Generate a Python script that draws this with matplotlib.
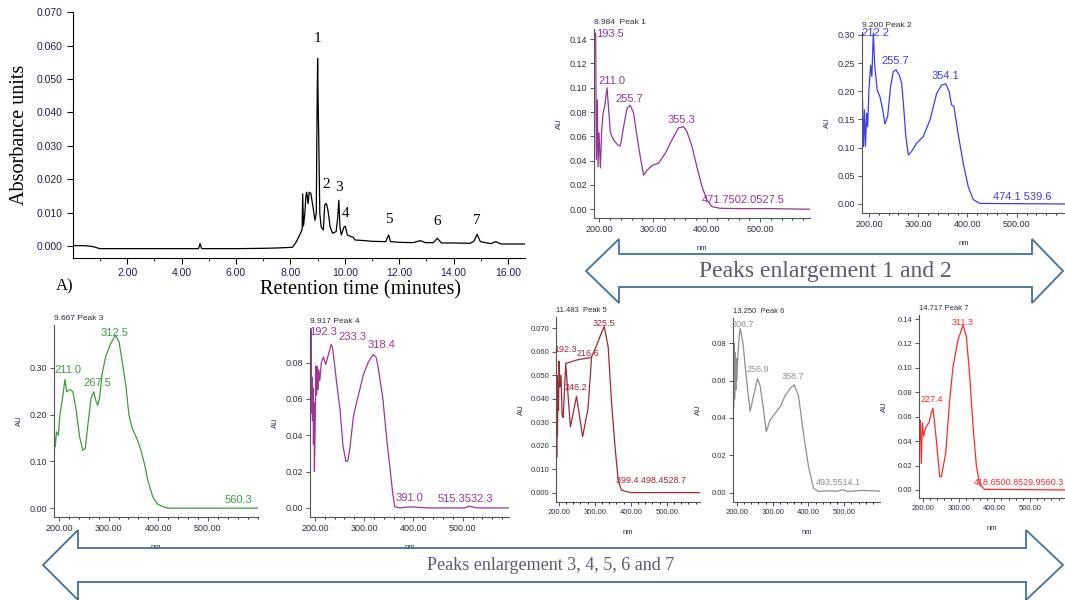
import numpy as np
import matplotlib.pyplot as plt
from matplotlib import font_manager
from matplotlib.patches import Polygon

W, H = 1065, 600

# chromatogram (retention time in min, absorbance)
rt = [0.0, 0.4, 0.7, 1.0, 1.5, 2.0, 3.0, 4.0, 4.62, 4.68, 4.74, 5.0, 6.0, 7.0, 7.5,
      8.07, 8.2, 8.28, 8.38, 8.43, 8.45, 8.48, 8.53, 8.57, 8.6, 8.65, 8.69, 8.75, 8.83, 8.9,
      8.95, 8.98, 9.0, 9.02, 9.04, 9.08, 9.13, 9.21, 9.26, 9.3, 9.33, 9.38, 9.46, 9.55, 9.68,
      9.74, 9.78, 9.82, 9.87, 9.97, 10.02, 10.09, 10.22, 10.31, 10.37, 10.75, 11.0, 11.5, 11.61, 11.68,
      12.0, 12.5, 12.77, 12.96, 13.25, 13.4, 13.55, 14.0, 14.6, 14.75, 14.86, 14.98, 15.36, 15.55, 15.74,
      16.2, 16.62]
absu = [0.0001, 0.0001, -0.0001, -0.0008, -0.0008, -0.0008, -0.0008, -0.0008, -0.0008, 0.0007, -0.0008, -0.0008, -0.0008, -0.0007, -0.0006,
        -0.0004, 0.0010, 0.0023, 0.0040, 0.0050, 0.0156, 0.0060, 0.0097, 0.0150, 0.0161, 0.0127, 0.0161, 0.0158, 0.0117, 0.0077,
        0.0097, 0.0410, 0.0562, 0.0420, 0.0330, 0.0097, 0.0057, 0.0048, 0.0122, 0.0127, 0.0125, 0.0107, 0.0057, 0.0038, 0.0043,
        0.0087, 0.0137, 0.0057, 0.0033, 0.0057, 0.0059, 0.0033, 0.0028, 0.0026, 0.0018, 0.0016, 0.0014, 0.0013, 0.0033, 0.0013,
        0.0011, 0.0010, 0.0016, 0.0010, 0.0010, 0.0023, 0.0009, 0.0009, 0.0008, 0.0015, 0.0035, 0.0013, 0.0007, 0.0013, 0.0006,
        0.0006, 0.0006]
peak_no = ['1', '2', '3', '4', '5', '6', '7']
peak_rt = [9.0, 9.33, 9.78, 10.02, 11.61, 13.38, 14.86]
peak_h = [0.0621, 0.0183, 0.0174, 0.0097, 0.0078, 0.0072, 0.0075]

# UV spectra (nm, AU)
p1_wl = [193.1, 194.4, 196.3, 197.5, 199.4, 201.9, 204.4, 206.9, 210.0, 214.3, 217.4, 220.5, 226.7, 234.2, 239.1,
         245.3, 251.6, 257.7, 263.9, 270.2, 276.4, 282.5, 288.8, 298.1, 310.5, 322.9, 335.3, 347.7, 357.0, 363.3,
         372.6, 381.9, 391.2, 400.6, 409.9, 425.3, 462.6, 524.6, 593.0]
p1_au = [0.145, 0.041, 0.090, 0.035, 0.063, 0.034, 0.065, 0.079, 0.085, 0.100, 0.082, 0.063, 0.057, 0.053, 0.052,
         0.068, 0.083, 0.0856, 0.079, 0.060, 0.043, 0.028, 0.032, 0.036, 0.038, 0.046, 0.057, 0.067, 0.068, 0.064,
         0.052, 0.035, 0.019, 0.0077, 0.0022, 0.0008, 0.0005, 0.0005, 0.0]
p1_lab = [('193.5', 219, 0.1446), ('211.0', 223.5, 0.106), ('255.7', 255, 0.091),
          ('355.3', 354, 0.0738), ('471.7502.0527.5', 469, 0.0074)]

p2_wl = [187, 189, 191, 193, 195.5, 197.5, 200, 203.5, 206, 209, 212, 217, 222.5, 228, 232.5,
         238, 244, 249.5, 255, 261.5, 266.5, 271, 275, 280, 286.5, 297, 310, 324, 337.5, 347.5,
         356, 363, 367.5, 372.5, 381, 391.5, 401.5, 411.5, 425, 598]
p2_au = [0.184, 0.102, 0.167, 0.102, 0.161, 0.137, 0.202, 0.246, 0.226, 0.303, 0.243, 0.202, 0.190, 0.167, 0.142,
         0.155, 0.208, 0.235, 0.238, 0.229, 0.214, 0.167, 0.119, 0.087, 0.093, 0.108, 0.119, 0.149, 0.196, 0.211,
         0.213, 0.199, 0.176, 0.173, 0.125, 0.072, 0.031, 0.008, 0.001, 0.0]
p2_lab = [('212.2', 214, 0.303), ('255.7', 253, 0.254), ('354.1', 355, 0.227), ('474.1 539.6', 511, 0.012)]

p3_wl = [190.4, 192.5, 195, 198.6, 202, 207.5, 212, 215.7, 222.4, 228, 234.7, 241.5, 248, 253, 257.8,
         264.6, 270, 274, 278, 282, 287, 294, 304, 314, 321, 328, 335, 341, 348, 358.5,
         365, 372, 379, 389, 399, 413, 420, 601]
p3_au = [0.16, 0.131, 0.163, 0.156, 0.20, 0.238, 0.275, 0.249, 0.254, 0.249, 0.21, 0.153, 0.124, 0.128, 0.174,
         0.235, 0.249, 0.231, 0.22, 0.238, 0.288, 0.324, 0.352, 0.37, 0.356, 0.31, 0.26, 0.199, 0.17, 0.145,
         0.124, 0.096, 0.06, 0.024, 0.0085, 0.0016, 0.0, 0.0]
p3_lab = [('211.0', 218, 0.2955), ('267.5', 278, 0.2677), ('312.5', 312, 0.3747), ('560.3', 562, 0.017)]

p4_wl = [190.5, 191.5, 192.3, 193.2, 194, 195, 196, 197, 198, 199, 200.5, 202, 203.5, 205, 206.5,
         208, 210, 213, 217, 222, 227, 233, 236, 244, 251, 257, 263, 267, 271, 278,
         284.5, 291, 298, 308, 318, 324, 328, 338, 345, 352, 358, 362, 372, 390, 400,
         430, 505, 512, 520, 530, 594]
p4_au = [0.073, 0.052, 0.098, 0.055, 0.072, 0.048, 0.066, 0.035, 0.058, 0.020, 0.045, 0.078, 0.062, 0.078, 0.065,
         0.076, 0.070, 0.080, 0.083, 0.079, 0.084, 0.090, 0.088, 0.069, 0.054, 0.034, 0.0255, 0.026, 0.033, 0.050,
         0.058, 0.065, 0.073, 0.080, 0.0844, 0.083, 0.078, 0.060, 0.040, 0.0228, 0.008, 0.0007, 0.0, 0.0005, 0.0005,
         0.0, 0.0, 0.001, 0.0005, 0.0, 0.0]
p4_lab = [('192.3', 216, 0.0966), ('233.3', 277, 0.0938), ('318.4', 335, 0.0894),
          ('391.0', 392, 0.0055), ('515.3532.3', 506, 0.005)]

p5_wl = [192, 193, 194, 195, 196, 197.5, 199, 200.5, 203, 206, 209, 212, 219, 232, 249,
         266, 281, 291, 303, 318, 326, 337, 346, 356, 365, 374, 400, 592]
p5_au = [0.045, 0.056, 0.015, 0.050, 0.024, 0.047, 0.035, 0.056, 0.045, 0.050, 0.033, 0.032, 0.055, 0.028, 0.041,
         0.0238, 0.036, 0.058, 0.062, 0.068, 0.0708, 0.062, 0.039, 0.0194, 0.005, 0.001, 0.0, 0.0]
p5b_wl = [219, 250, 287]
p5b_au = [0.055, 0.0565, 0.0575]
p5_lab = [('192.3', 219, 0.0608), ('216.6', 282, 0.0591), ('246.2', 246, 0.0446),
          ('325.5', 324, 0.0719), ('399.4 498.4528.7', 457, 0.0053)]

p6_wl = [189, 190, 190.6, 192.5, 193.5, 195.3, 197, 198, 200, 202, 205.5, 209, 213, 217, 223,
         230, 237, 246.5, 257.7, 265, 274, 282, 293, 321, 335, 350, 360, 372, 386, 400,
         414, 428, 450, 480, 495, 510, 550, 600]
p6_au = [0.080, 0.092, 0.045, 0.080, 0.050, 0.075, 0.055, 0.072, 0.060, 0.071, 0.082, 0.088, 0.084, 0.080, 0.068,
         0.055, 0.0435, 0.052, 0.061, 0.057, 0.045, 0.0327, 0.039, 0.046, 0.052, 0.056, 0.0577, 0.052, 0.0318, 0.014,
         0.0024, 0.0006, 0.001, 0.0008, 0.0015, 0.0007, 0.0012, 0.0008]
p6_lab = [('208.7', 217.6, 0.0898), ('256.9', 258, 0.0657), ('358.7', 356, 0.062), ('493.5514.1', 484, 0.0052)]

p7_wl = [189, 190.7, 192.6, 195.5, 198.3, 202, 205.8, 209.5, 216.9, 223.5, 228.2, 237.5, 246.9, 251.6, 263.8,
         275, 284.4, 298.4, 312.4, 321.8, 331.2, 340.5, 350, 359.3, 373.3, 598]
p7_au = [0.065, 0.041, 0.057, 0.0218, 0.055, 0.044, 0.049, 0.052, 0.055, 0.063, 0.067, 0.041, 0.011, 0.011, 0.030,
         0.0737, 0.101, 0.123, 0.135, 0.1255, 0.093, 0.052, 0.0191, 0.0041, 0.0005, 0.0]
p7_lab = [('227.4', 224, 0.0737), ('311.3', 310, 0.1375), ('418.6500.8529.9560.3', 468, 0.0065)]

# double arrows, pixel outline
arr1_x = [586, 619, 619, 1032, 1032, 1063, 1032, 1032, 619, 619]
arr1_y = [271, 239, 254, 254, 239, 271, 303, 287, 287, 303]
arr2_x = [43, 78, 78, 1026, 1026, 1063, 1026, 1026, 78, 78]
arr2_y = [565, 530, 548, 548, 530, 565, 600, 582, 582, 600]

names = {f.name for f in font_manager.fontManager.ttflist}
narrow = 'Liberation Sans Narrow' if 'Liberation Sans Narrow' in names else 'Liberation Sans'
serif = 'Liberation Serif'
plt.rcParams['font.family'] = ['Liberation Sans', 'DejaVu Sans']

fig = plt.figure(figsize=(W / 100, H / 100), dpi=100)


def box(l, t, r, b):
    return [l / W, 1 - b / H, (r - l) / W, (b - t) / H]


# main chromatogram
ax = fig.add_axes(box(72.7, 12.3, 525, 258))
ax.plot(rt, absu, color='black', lw=0.9)
ax.set_xlim(0, 16.62)
ax.set_ylim(-0.0036, 0.070)
ax.spines['top'].set_visible(False)
ax.spines['right'].set_visible(False)
yt = np.arange(0, 0.0701, 0.01)
ax.set_yticks(yt)
ax.set_yticklabels(['%.3f' % v for v in yt])
xt = np.arange(2, 16.1, 2)
ax.set_xticks(xt)
ax.set_xticklabels(['%.2f' % v for v in xt])
ax.set_xticks(np.arange(1, 16.7, 1), minor=True)
ax.tick_params(labelsize=7.5, labelcolor='#1f2050', length=4, width=0.8)
ax.tick_params(which='minor', length=2)
ax.set_ylabel('Absorbance units', family=serif, fontsize=14.5)
ax.yaxis.set_label_coords(-44 / 452.3, 0.5)
for n, x, y in zip(peak_no, peak_rt, peak_h):
    ax.text(x, y, n, ha='center', va='center', family=serif, fontsize=11)
fig.text(360 / W, 1 - 280 / H, 'Retention time (minutes)', family=serif, fontsize=14.5,
         ha='center', va='top')
fig.text(65 / W, 1 - 286 / H, 'A)', family=serif, fontsize=12, ha='center', va='center')


def spectrum(rect, wl, au, color, title, xlim, ylim, yticks, yfmt, labels, small=False):
    l, t, r, b = rect
    a = fig.add_axes(box(l, t, r, b))
    a.plot(wl, au, color=color, lw=0.9)
    a.set_xlim(xlim)
    a.set_ylim(ylim)
    a.spines['top'].set_visible(False)
    a.spines['right'].set_visible(False)
    for s in ['left', 'bottom']:
        a.spines[s].set_color('#555555')
        a.spines[s].set_linewidth(0.8)
    fam = narrow if small else 'Liberation Sans'
    a.set_xticks([200, 300, 400, 500])
    a.set_xticklabels(['200.00', '300.00', '400.00', '500.00'], family=fam)
    a.set_xticks(np.arange(220, xlim[1], 20), minor=True)
    a.set_yticks(yticks)
    a.set_yticklabels([yfmt % v for v in yticks], family=fam)
    a.tick_params(labelsize=5.5 if small else 6.5, labelcolor='#2e2e48', color='#555555',
                  length=3, width=0.7, pad=2)
    a.tick_params(which='minor', length=1.5, width=0.6)
    a.set_xlabel('nm', fontsize=5.5, color='#2e2e48')
    a.xaxis.set_label_coords(0.5, -27 / (b - t))
    a.set_ylabel('AU', fontsize=5.5, color='#2e2e48')
    a.yaxis.set_label_coords(-31 / (r - l), 0.5)
    a.annotate(title, (0, 1), xycoords='axes fraction', xytext=(0, 2), textcoords='offset points',
               fontsize=5.5 if small else 6, color='#2e2e3e', ha='left', va='bottom', family=fam)
    for txt, x, y in labels:
        a.text(x, y, txt, color=color, fontsize=6.5 if small else 8, ha='center', va='center', family=fam)
    return a


spectrum((594, 29, 810, 218), p1_wl, p1_au, '#993399', '8.984  Peak 1', (190, 593), (-0.0072, 0.1484),
         np.arange(0, 0.141, 0.02), '%.2f', p1_lab)
spectrum((862, 32, 1065, 213), p2_wl, p2_au, '#3d3df0', '9.200 Peak 2', (186, 598), (-0.016, 0.305),
         np.arange(0, 0.301, 0.05), '%.2f', p2_lab)
spectrum((54, 325, 258, 517), p3_wl, p3_au, '#3c9e3c', '9.667 Peak 3', (190, 601), (-0.019, 0.392),
         np.arange(0, 0.301, 0.10), '%.2f', p3_lab)
spectrum((310, 328, 509, 517), p4_wl, p4_au, '#a0359b', '9.917 Peak 4', (190, 594), (-0.005, 0.099),
         np.arange(0, 0.081, 0.02), '%.2f', p4_lab)
a5 = spectrum((556, 317, 700, 502), p5_wl, p5_au, '#9e2a36', '11.483  Peak 5', (192, 592), (-0.004, 0.0748),
              np.arange(0, 0.0701, 0.01), '%.3f', p5_lab, small=True)
a5.plot(p5b_wl, p5b_au, color='#9e2a36', lw=0.9)
spectrum((733, 318, 880, 502), p6_wl, p6_au, '#8f8f8f', '13.250  Peak 6', (189, 600), (-0.005, 0.0935),
         np.arange(0, 0.081, 0.02), '%.2f', p6_lab, small=True)
spectrum((919, 315, 1065, 498), p7_wl, p7_au, '#ff2a2a', '14.717 Peak 7', (189, 598), (-0.0066, 0.1433),
         np.arange(0, 0.141, 0.02), '%.2f', p7_lab, small=True)

# overlay with the two double arrows
ov = fig.add_axes([0, 0, 1, 1])
ov.set_xlim(0, W)
ov.set_ylim(H, 0)
ov.axis('off')
ov.add_patch(Polygon(list(zip(arr1_x, arr1_y)), closed=True, fill=False, ec='#41719c', lw=1.3))
ov.add_patch(Polygon(list(zip(arr2_x, arr2_y)), closed=True, fill=False, ec='#41719c', lw=1.3))
ov.text(825, 271, 'Peaks enlargement 1 and 2', family=serif, fontsize=17, color='#5a5a6a',
        ha='center', va='center')
ov.text(551, 565, 'Peaks enlargement 3, 4, 5, 6 and 7', family=serif, fontsize=13, color='#5a5a6a',
        ha='center', va='center')

fig.savefig('out.png', dpi=100)
